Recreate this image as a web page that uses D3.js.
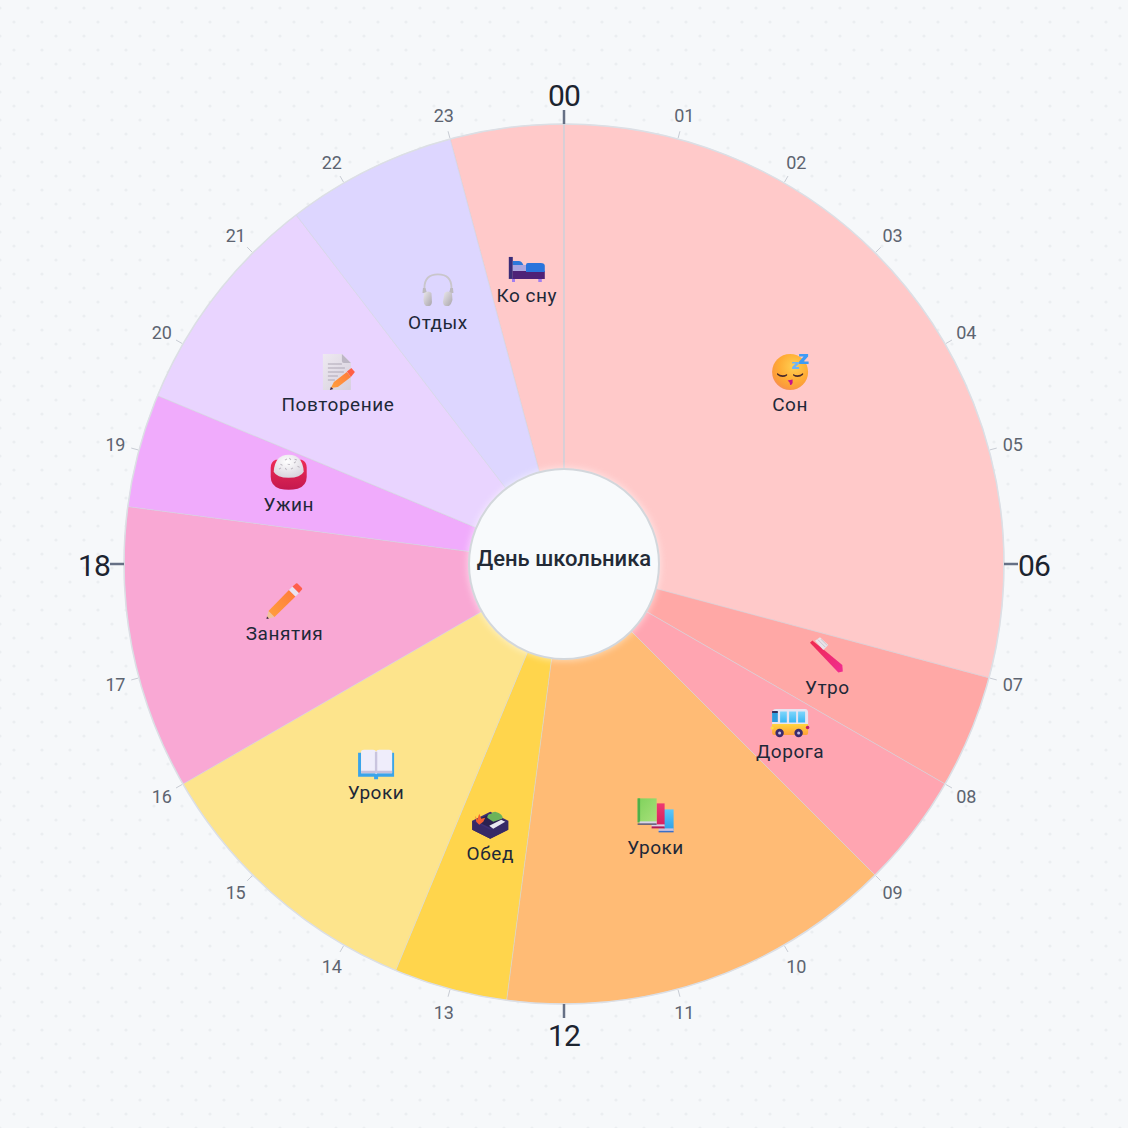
<!DOCTYPE html>
<html lang="ru"><head><meta charset="utf-8">
<script src="https://cdn.jsdelivr.net/npm/d3@7"></script>
<style>html,body{margin:0;padding:0;background:#f6f8fa}svg{display:block}</style>
</head><body><div id="chart"></div>
<script>
const categories = ["Ко сну","Сон","Утро","Дорога","Уроки","Обед","Уроки","Занятия","Ужин","Повторение","Отдых"];
const startHours = [23,0,7,8,9,12.5,13.5,16,18.5,19.5,21.5];
const endHours   = [24,7,8,9,12.5,13.5,16,18.5,19.5,21.5,23];
const icons = ["bed","sleep","brush","bus","books","bento","openbook","pencil","rice","memo","phones"];
const palette = ["#ffc9c9","#ffc9c9","#ffa8a6","#ffa5b1","#ffbb75","#ffd54c","#fde48c","#f9a8d4","#f0abfc","#e9d4ff","#ddd6ff"];
const hourLabels = d3.range(24).map(h => String(h).padStart(2,"0"));
const title = "День школьника";

const W=1128, cx=564, cy=564, R=440, r0=95, labelR=285;
const FONT='Roboto,"Noto Sans",sans-serif';
const angle = d3.scaleLinear().domain([0,24]).range([0,2*Math.PI]);
const polar = (h,r)=>[cx+r*Math.sin(angle(h)), cy-r*Math.cos(angle(h))];

const svg = d3.select("#chart").append("svg").attr("width",W).attr("height",W).attr("viewBox",[0,0,W,W]);
const defs = svg.append("defs");

const pat = defs.append("pattern").attr("id","dots").attr("width",28).attr("height",28).attr("patternUnits","userSpaceOnUse");
pat.append("circle").attr("cx",0).attr("cy",8).attr("r",1.6).attr("fill","#ebeef1");
pat.append("circle").attr("cx",28).attr("cy",8).attr("r",1.6).attr("fill","#ebeef1");
pat.append("circle").attr("cx",14).attr("cy",22).attr("r",1.6).attr("fill","#ebeef1");
svg.append("rect").attr("width",W).attr("height",W).attr("fill","#f6f8fa");
svg.append("rect").attr("width",W).attr("height",W).attr("fill","url(#dots)");

function lin(id,x1,y1,x2,y2,stops){
  const g=defs.append("linearGradient").attr("id",id).attr("x1",x1).attr("y1",y1).attr("x2",x2).attr("y2",y2);
  stops.forEach(([o,c])=>g.append("stop").attr("offset",o).attr("stop-color",c));
}
function rad(id,cxp,cyp,rp,stops){
  const g=defs.append("radialGradient").attr("id",id).attr("cx",cxp).attr("cy",cyp).attr("r",rp);
  stops.forEach(([o,c])=>g.append("stop").attr("offset",o).attr("stop-color",c));
}
rad("gFace",.6,.35,.72,[[0,"#ffcf52"],[.55,"#ffad35"],[.85,"#fb9a3c"],[1,"#f58a6a"]]);
lin("gBrush",0,0,1,1,[[0,"#ee2a4e"],[1,"#f02d92"]]);
lin("gBus",0,0,0,1,[[0,"#ffd53f"],[1,"#ff9f3a"]]);
lin("gGlass",0,0,0,1,[[0,"#7fd6fb"],[1,"#38b6f4"]]);
lin("gGreen",0,0,1,1,[[0,"#7fd25c"],[1,"#a8e07a"]]);
lin("gBlue",0,0,0,1,[[0,"#5cc8fa"],[1,"#2c9fe8"]]);
lin("gPink",0,0,0,1,[[0,"#ee3a72"],[1,"#d81f60"]]);
lin("gPencil",1,0,0,1,[[0,"#ff7a3a"],[1,"#ffa03e"]]);
lin("gPage",0,0,1,1,[[0,"#eee9f1"],[1,"#d6d0dc"]]);
lin("gBowl",0,0,0,1,[[0,"#ee2c55"],[1,"#c4184f"]]);
rad("gRice",.45,.3,.7,[[0,"#ffffff"],[1,"#d9d5de"]]);
lin("gPhone",0,0,1,1,[[0,"#ebe8ec"],[1,"#a9a5ab"]]);

const defsFilter = defs.append("filter").attr("id","soft").attr("x","-20%").attr("y","-20%").attr("width","140%").attr("height","140%");
defsFilter.append("feGaussianBlur").attr("stdDeviation",3);

const P=(g,d,fill,extra={})=>{const e=g.append("path").attr("d",d).attr("fill",fill);Object.entries(extra).forEach(([k,v])=>e.attr(k,v));return e;};

const drawIcon = {
  sleep(g){
    g.append("circle").attr("r",18).attr("fill","url(#gFace)");
    P(g,"M-13 1 Q-8 5 -3 2 L-3 3.5 Q-8 7 -13 2.8Z","#4a2a2a");
    P(g,"M3 2 Q8 5 13 1 L13 2.8 Q8 7 3 3.5Z","#4a2a2a");
    P(g,"M-2.5 8.5 L2.5 7.5 L2.5 11 Q1.5 13.5 0 13 L-.5 10.5Z","#c4148c");
    P(g,"M9 -18H18V-15.5L13.5 -10.5H18.5V-8H9V-10.5L13.5 -15.5H9Z","#3f9bf5");
    P(g,"M2 -10H9V-8.5L5.5 -5H9V-3H2V-5L5.5 -8.5H2Z","#6cb4f7");
  },
  brush(g){
    P(g,"M-17.3 -11.8 L-15 -14 L-5 -6 L15 10.5 L15.5 17 L11 18Z","url(#gBrush)");
    P(g,"M-12.3 -13.8 L-7.3 -17.2 L1 -9.5 L-4 -4.5Z","#e9e4ea");
    P(g,"M-9.5 -15 L-2 -7.5M-6.5 -15.5 L0 -9","none",{stroke:"#bdb7c2","stroke-width":.7});
  },
  bus(g){
    P(g,"M-18 -6 Q-18 -10 -14 -10H15Q18 -10 18 -6V6H-18Z","#e7e4f2");
    P(g,"M-18 5H18V14Q18 16 16 16H-16Q-18 16 -18 14Z","url(#gBus)");
    P(g,"M-18 -7H-12.3V3H-18Z","#2f9bdc");
    P(g,"M-18 -8H-12.3V-6H-18Z","#34305e");
    P(g,"M-10 -7.5H-3.3V3.5H-10Z","url(#gGlass)");
    P(g,"M-1 -7.5H6V3.5H-1Z","url(#gGlass)");
    P(g,"M8 -7.5H15V3.5H8Z","url(#gGlass)");
    g.append("circle").attr("cx",-18).attr("cy",9).attr("r",1.6).attr("fill","#ffd94a");
    g.append("circle").attr("cx",17.5).attr("cy",8.5).attr("r",1.8).attr("fill","#c01f6a");
    [-10.5,8.5].forEach(x=>{
      g.append("circle").attr("cx",x).attr("cy",14).attr("r",4.2).attr("fill","#3b2a6e");
      g.append("circle").attr("cx",x).attr("cy",14).attr("r",1.5).attr("fill","#c8bfe2");
    });
  },
  bed(g){
    P(g,"M-14.8 15H-11.8V19H-14.8ZM11.5 15H15V19H11.5Z","#a17ff0");
    P(g,"M-18 -6H-14V16H-18Z","#3a2c78");
    P(g,"M-14 8H18V16H-14Z","#4e2277");
    P(g,"M-14 2H0V8H-14Z","#a9a5e0");
    P(g,"M-14 2V-2H-8Q-5 -2 -3.5 2Z","#2d78da");
    P(g,"M-.8 9V2Q-.8 0 1 0H14Q18 0 18 3V9Z","#2a74dc");
  },
  phones(g){
    P(g,"M-13.5 3 V-2 Q-13.5 -15.5 0 -15.5 Q13.5 -15.5 13.5 -2 V3","none",{stroke:"#c9c6cb","stroke-width":1.8});
    P(g,"M-15 -2 L-12.5 -2 L-11 3 L-15.5 3Z","#bdbabf");
    P(g,"M15 -2 L12.5 -2 L11 3 L15.5 3Z","#bdbabf");
    P(g,"M-14 3 Q-9 0 -6.5 3 L-6 12 Q-6.5 16 -9 16 L-12 16 Q-14.5 14 -14.5 10Z","url(#gPhone)");
    P(g,"M14 3 Q9 0 6.5 3 L5 12 Q5.5 16 8 16 L11 16 Q13.5 14 14.5 10Z","url(#gPhone)");
  },
  memo(g){
    P(g,"M-15 -18H4L13 -9V18H-15Z","url(#gPage)");
    P(g,"M4 -18L13 -9H6Q4 -9 4 -11Z","#bdb7c4");
    P(g,"M-10 -8H4M-10 -4H7M-10 0H6M-10 4H0M-10 8H-3","none",{stroke:"#a8a2b0","stroke-width":.9});
    P(g,"M-7 16 L-4 10 L9 0 L13 5 L0 15Z","url(#gPencil)");
    P(g,"M9 -.5 L13.5 -4 L17 0 L13 5Z","#ff5f45");
    P(g,"M-8 18 L-7 15 L-4.5 17Z","#3c2244");
  },
  rice(g){
    P(g,"M-18 -4 Q-18 -10 -13 -12 H13 Q18 -10 18 -4 V5 Q18 14 9 17 Q0 19 -9 17 Q-18 14 -18 5Z","url(#gBowl)");
    P(g,"M-15 0 Q-14 -17 0 -17 Q14 -17 15 0 Q12 6 0 6 Q-12 6 -15 0Z","url(#gRice)");
    [[-8,-8,35],[-4,-12,-30],[1,-14,50],[5,-9,-40],[9,-6,30],[-3,-4,60],[2,-3,-30],[-10,-3,-30],[6,-13,20],[-1,-8,10]].forEach(([x,y,a])=>
      g.append("rect").attr("x",x).attr("y",y).attr("width",2.4).attr("height",.9).attr("fill","#b9b4bd").attr("transform",`rotate(${a} ${x} ${y})`));
  },
  pencil(g){
    P(g,"M-18 18 L-16 10 L-10 16Z","#f0c49a");
    P(g,"M-18 18 L-17.5 15.5 L-15.5 17.5Z","#3c2244");
    P(g,"M-16 10 L4.5 -11 L11 -4.5 L-10 16Z","url(#gPencil)");
    P(g,"M4.5 -11 L8 -14.5 L14.5 -8 L11 -4.5Z","#e9e4f0");
    P(g,"M8 -14.5 L11.5 -17.5 Q12 -18 13 -17.5 L17.5 -13 Q18 -12 17.5 -11.5 L14.5 -8Z","#ff5f4c");
  },
  openbook(g){
    P(g,"M-18 -7H-15V13H16V-7H18V17H2V19.5H-2V17H-18Z","#3aa4ea");
    P(g,"M-15 -8Q-15 -10 -12 -10H-3Q-.5 -10 0 -8Q.5 -10 3 -10H13Q16 -10 16 -8V13.5H1L0 14.5L-1 13.5H-15Z","#efedfb");
    P(g,"M-1.2 -8H1.2V13.5H-1.2Z","#c9c4de");
    P(g,"M-15 11H-1V13.5H-15ZM1 11H16V13.5H1Z","#c5c0dc");
  },
  bento(g){
    P(g,"M-18 0 L0 -9 L18 0 L18 9 L0 18 L-18 9Z","#3e2f73");
    P(g,"M-18 0 L0 9 L18 0 L18 9 L0 18 L-18 9Z","#372a66");
    P(g,"M-15 0 L0 -7 L15 0 L0 7Z","#2b2150");
    P(g,"M-1 5 L11 -1 L15 1 L3 8Z","#e8e6f0");
    P(g,"M-3 -3 Q-3 -7 1 -7 Q2 -9 5 -9 Q9 -8 11 -6 Q13 -4 12 -2 L3 1Z","#6db35a");
    P(g,"M-15 -5 L-13 -1 L-11 -7 L-9 -2 L-5 -3 L-7 1 L-11 4 L-14 1Z","#f4602f");
  },
  books(g){
    P(g,"M8 -6H18V15H8Z","url(#gBlue)");
    P(g,"M3 13H18V16H3Z","#c9c2e0");
    P(g,"M3 15.5H18V17H3Z","#3a6fc8");
    P(g,"M1 -12H9V10H1Z","url(#gPink)");
    P(g,"M-4 9H9V12H-4Z","#d9d2e8");
    P(g,"M-4 11H9V13H-4Z","#b01a58");
    P(g,"M-18 -17H1V7H-18Z","url(#gGreen)");
    P(g,"M-18 -17H-15.5V7H-18Z","#4faf4a");
    P(g,"M-16 6H1V8.5H-16Z","#d9d2e8");
    P(g,"M-18 8H1V9.5H-18Z","#5b5a7a");
  }
};

const arc = d3.arc().innerRadius(r0).outerRadius(R).startAngle(i=>angle(startHours[i])).endAngle(i=>angle(endHours[i]));
const idx = d3.range(categories.length);

svg.append("g").selectAll("path").data(idx).join("path")
  .attr("transform",`translate(${cx},${cy})`)
  .attr("d",arc).attr("fill",i=>palette[i])
  .attr("stroke","#d2d5de").attr("stroke-opacity",.5).attr("stroke-width",1);

// outer rim
svg.append("circle").attr("cx",cx).attr("cy",cy).attr("r",R).attr("fill","none").attr("stroke","#dcdfe5").attr("stroke-width",1.5);
// midnight spoke
const [sx,sy]=polar(0,r0),[ex,ey]=polar(0,R);
svg.append("line").attr("x1",sx).attr("y1",sy).attr("x2",ex).attr("y2",ey).attr("stroke","#ccd0da").attr("stroke-width",1.2);

// ticks
const ticks = svg.append("g");
hourLabels.forEach((lab,h)=>{
  const major = h%6===0;
  const [x1,y1]=polar(h,R+(major?0:1)), [x2,y2]=polar(h,R+(major?14:8));
  ticks.append("line").attr("x1",x1).attr("y1",y1).attr("x2",x2).attr("y2",y2)
    .attr("stroke",major?"#667085":"#c8ccd4").attr("stroke-width",major?2.5:1);
  const [tx,ty]=polar(h,major?470:464.5);
  ticks.append("text").attr("x",tx).attr("y",ty+(major?1:.3)).attr("text-anchor","middle").attr("dominant-baseline","central")
    .attr("font-family",FONT).attr("font-size",major?30:18).attr("letter-spacing",major?-.8:-.2)
    .attr("fill",major?"#1c2430":"#5d6470").text(lab);
});

// centre
svg.append("circle").attr("cx",cx).attr("cy",cy).attr("r",r0+2).attr("fill","#fff").attr("opacity",.45).attr("filter","url(#soft)");
svg.append("circle").attr("cx",cx).attr("cy",cy).attr("r",r0).attr("fill","#f8fafc").attr("stroke","#d3d7dc").attr("stroke-width",2);
svg.append("text").attr("x",cx).attr("y",558).attr("text-anchor","middle").attr("dominant-baseline","central")
  .attr("font-family",FONT).attr("font-size",22).attr("font-weight",500).attr("fill","#232a36").text(title);

// labels
const lg = svg.append("g");
idx.forEach(i=>{
  const [x,y]=polar((startHours[i]+endHours[i])/2,labelR);
  const g = lg.append("g").attr("transform",`translate(${x},${y})`);
  const ic = g.append("g").attr("transform","translate(0,-18.5)");
  drawIcon[icons[i]](ic);
  g.append("text").attr("y",14).attr("text-anchor","middle").attr("dominant-baseline","central")
    .attr("font-family",FONT).attr("font-size",19).attr("letter-spacing",.55).attr("fill","#1e2838").text(categories[i]);
});
</script></body></html>
